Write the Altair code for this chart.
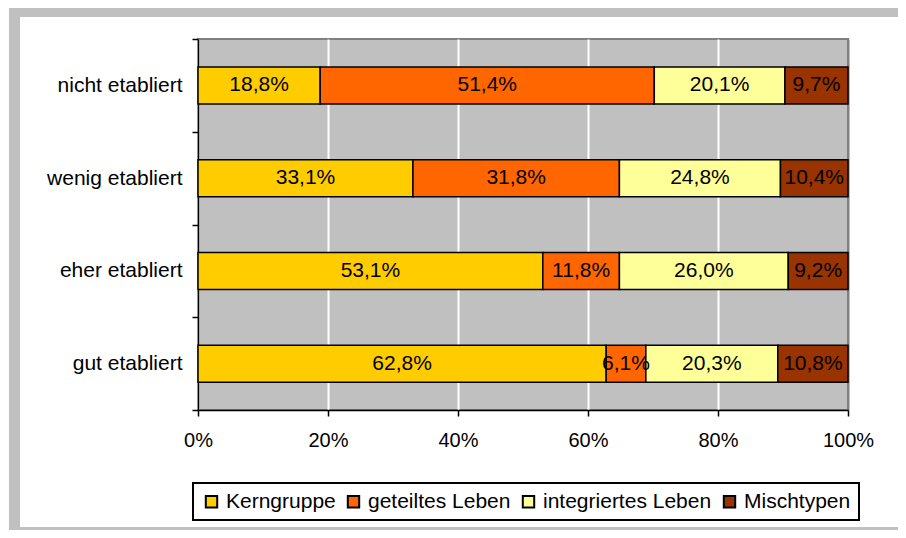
import altair as alt
import pandas as pd

categories = ["nicht etabliert", "wenig etabliert", "eher etabliert", "gut etabliert"]
series = ["Kerngruppe", "geteiltes Leben", "integriertes Leben", "Mischtypen"]
kerngruppe = [18.8, 33.1, 53.1, 62.8]
geteiltes_leben = [51.4, 31.8, 11.8, 6.1]
integriertes_leben = [20.1, 24.8, 26.0, 20.3]
mischtypen = [9.7, 10.4, 9.2, 10.8]
colors = ["#FFCC00", "#FF6600", "#FFFF99", "#993300"]
x_ticks = [0, 0.2, 0.4, 0.6, 0.8, 1.0]

FONT = "Liberation Sans"

rows = []
for si, (s, vals) in enumerate(zip(series, [kerngruppe, geteiltes_leben, integriertes_leben, mischtypen])):
    for c, v in zip(categories, vals):
        rows.append({"cat": c, "series": s, "idx": si, "value": v,
                     "label": f"{v:.1f}".replace(".", ",") + "%"})
df = pd.DataFrame(rows)

base = alt.Chart(df).transform_stack(
    stack="value", groupby=["cat"], as_=["x0", "x1"], offset="normalize",
    sort=[alt.SortField("idx", order="ascending")]
).transform_calculate(mid="(datum.x0 + datum.x1) / 2")

y_enc = alt.Y("cat:N", sort=categories,
              scale=alt.Scale(paddingInner=0, paddingOuter=0),
              axis=alt.Axis(title=None, tickBand="extent", tickSize=6, labelPadding=10,
                            labelFontSize=21, domainColor="black", tickColor="black",
                            domainWidth=1.5, tickWidth=1.5, grid=False, labelColor="black",
                            labelFont=FONT))

x_scale = alt.Scale(domain=[0, 1], nice=False)

bars = base.mark_bar(size=37, stroke="black", strokeWidth=1.5).encode(
    x=alt.X("x0:Q", scale=x_scale,
            axis=alt.Axis(values=x_ticks, format=".0%", title=None, tickSize=6,
                          labelPadding=14, labelFontSize=20, labelColor="black",
                          labelFont=FONT, labelFlush=False, domainColor="black", tickColor="black",
                          domainWidth=1.5, tickWidth=1.5, grid=True, gridWidth=2,
                          gridColor={"condition": {"test": "datum.value >= 1", "value": "#808080"},
                                     "value": "white"})),
    x2="x1:Q",
    y=y_enc,
    color=alt.Color("series:N", scale=alt.Scale(domain=series, range=colors),
                    legend=alt.Legend(orient="none", legendX=-5, legendY=444,
                                      direction="horizontal", title=None,
                                      symbolType="square", symbolSize=130,
                                      symbolStrokeColor="black", symbolStrokeWidth=2,
                                      labelFontSize=21, labelFont=FONT, labelColor="black",
                                      labelLimit=400, labelOffset=4, columnPadding=7,
                                      padding=8, strokeColor="black")),
)

texts = base.mark_text(fontSize=21, font=FONT, color="black", baseline="middle").encode(
    x=alt.X("mid:Q", scale=x_scale),
    y=alt.Y("cat:N", sort=categories),
    text="label:N",
)

dummy = pd.DataFrame({"d": [0]})
frame_color = "#C0C0C0"
left_strip = alt.Chart(dummy).mark_rect(color=frame_color).encode(
    x=alt.value(-189), x2=alt.value(-178), y=alt.value(-31), y2=alt.value(491))
top_strip = alt.Chart(dummy).mark_rect(color=frame_color).encode(
    x=alt.value(-189), x2=alt.value(700), y=alt.value(-31), y2=alt.value(-22))
bottom_strip = alt.Chart(dummy).mark_rect(color=frame_color).encode(
    x=alt.value(-189), x2=alt.value(700), y=alt.value(488), y2=alt.value(491))

chart = alt.layer(left_strip, top_strip, bottom_strip, bars, texts).properties(
    width=650, height=371,
    padding={"left": 190, "top": 31, "right": 50, "bottom": 120},
    autosize=alt.AutoSizeParams(type="none"),
    background="white",
).configure_view(
    fill="#C0C0C0", stroke="#808080", strokeWidth=2
).configure_legend(
    strokeWidth=2
)

chart.save("out.html", embed_options={"renderer": "svg", "actions": False})
